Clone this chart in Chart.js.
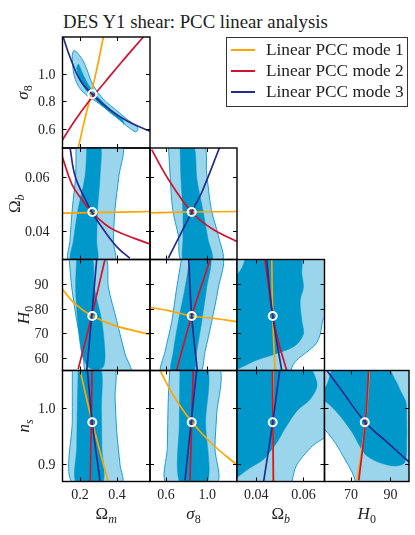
<!DOCTYPE html>
<html>
<head>
<meta charset="utf-8">
<title>DES Y1 shear: PCC linear analysis</title>
<script src="https://cdn.jsdelivr.net/npm/chart.js@4.4.1/dist/chart.umd.min.js"></script>
<style>
  html, body { margin: 0; padding: 0; background: #fff; }
  #page { position: relative; width: 415px; height: 535px; overflow: hidden;
          font-family: "Liberation Serif", "DejaVu Serif", serif; color: #222; }
  #page canvas { position: absolute; left: 0; top: 0; }
  #title { position: absolute; left: 63px; top: 12.6px; font-size: 18.8px; line-height: 18.8px; white-space: nowrap; }
  #legend { position: absolute; left: 226px; top: 37px; width: 180px; height: 68px;
            border: 1.3px solid #333; background: #fff; }
  .sw { position: absolute; left: 231px; width: 24px; height: 2px; }
  .tx { position: absolute; left: 266px; font-size: 17.3px; line-height: 17px; white-space: nowrap; }
</style>
</head>
<body>
<div id="page">
  <div id="title">DES Y1 shear: PCC linear analysis</div>
  <div id="legend"></div>
</div>
<script>
// fiducial point: Ωm, σ8, Ωb, H0, ns
const fid = [0.266, 0.85, 0.047, 77.0, 0.975];

// axis limits
const omLim = [0.105, 0.578];
const s8LimX = [0.445, 1.29];
const obLimX = [0.0319, 0.0689];
const h0LimX = [56.6, 99.4];
const s8LimY = [0.459, 1.267];
const obLimY = [0.0295, 0.0706];
const h0LimY = [54.93, 99.87];
const nsLimY = [0.868, 1.0687];

// ticks
const omTicks = [0.2, 0.4];
const s8TicksX = [0.6, 1.0];
const s8TicksY = [0.6, 0.8, 1.0];
const obTicks = [0.04, 0.06];
const h0TicksX = [70, 90];
const h0TicksY = [60, 70, 80, 90];
const nsTicks = [0.9, 1.0];

const legendLabels = ['Linear PCC mode 1', 'Linear PCC mode 2', 'Linear PCC mode 3'];

// contours (68% dark, 95% light) and PCC mode lines, per panel
const omS8Light = [[0.166,1.168],[0.180,1.160],[0.214,1.099],[0.238,1.027],[0.262,0.94],[0.294,0.867],[0.336,0.801],[0.394,0.736],[0.452,0.670],[0.510,0.612],[0.510,0.583],[0.497,0.577],[0.450,0.622],[0.376,0.707],[0.306,0.780],[0.240,0.838],[0.196,0.898],[0.170,0.976],[0.160,1.063],[0.158,1.143],[0.166,1.168]];
const omS8Dark = [[0.181,1.041],[0.200,0.954],[0.232,0.881],[0.286,0.809],[0.351,0.729],[0.427,0.649],[0.437,0.630],[0.427,0.670],[0.351,0.758],[0.286,0.845],[0.243,0.925],[0.210,1.012],[0.191,1.070],[0.181,1.041]];
const omS8Mode1 = [[0.190,0.459],[0.224,0.66],[0.259,0.85],[0.293,1.05],[0.326,1.267]];
const omS8Mode2 = [[0.104,0.516],[0.173,0.661],[0.245,0.794],[0.335,0.94],[0.425,1.085],[0.542,1.267]];
const omS8Mode3 = [[0.109,1.265],[0.145,1.123],[0.200,0.954],[0.266,0.85],[0.362,0.736],[0.452,0.658],[0.560,0.590],[0.578,0.583]];

const omObLight = [[0.178,0.072],[0.176,0.0603],[0.158,0.0482],[0.145,0.0361],[0.140,0.029],[0.385,0.029],[0.380,0.0361],[0.389,0.0482],[0.410,0.0603],[0.425,0.072],[0.178,0.072]];
const omObDark = [[0.237,0.072],[0.227,0.0603],[0.190,0.0482],[0.163,0.0361],[0.151,0.029],[0.290,0.029],[0.290,0.0361],[0.295,0.0482],[0.308,0.0603],[0.308,0.072],[0.237,0.072]];
const omObMode1 = [[0.10,0.0466],[0.266,0.0468],[0.58,0.0472]];
const omObMode2 = [[0.104,0.0674],[0.156,0.0572],[0.21,0.0515],[0.263,0.0470],[0.335,0.0425],[0.389,0.0402],[0.497,0.0372],[0.578,0.0352]];
const omObMode3 = [[0.146,0.0706],[0.173,0.0603],[0.227,0.0518],[0.263,0.0470],[0.335,0.0397],[0.407,0.0336],[0.469,0.0300]];

const s8ObLight = [[0.623,0.072],[0.639,0.0614],[0.665,0.048],[0.720,0.0383],[0.757,0.029],[1.145,0.029],[1.108,0.0383],[1.04,0.048],[0.995,0.0614],[0.962,0.072],[0.623,0.072]];
const s8ObDark = [[0.736,0.072],[0.746,0.059],[0.765,0.047],[0.765,0.0371],[0.775,0.029],[1.046,0.029],[1.008,0.0371],[0.962,0.047],[0.901,0.059],[0.865,0.072],[0.736,0.072]];
const s8ObMode1 = [[0.44,0.0467],[0.85,0.0470],[1.29,0.0472]];
const s8ObMode2 = [[0.461,0.0700],[0.623,0.0591],[0.85,0.0470],[1.044,0.0409],[1.29,0.0361]];
const s8ObMode3 = [[0.623,0.0300],[0.85,0.0470],[0.947,0.0542],[1.125,0.0712]];

const omH0Light = [[0.140,101],[0.155,88.6],[0.182,75.1],[0.217,61.6],[0.238,54],[0.473,54],[0.443,61.6],[0.398,75.1],[0.353,88.6],[0.333,101],[0.140,101]];
const omH0Dark = [[0.182,101],[0.176,88.6],[0.187,75.1],[0.209,61.6],[0.244,56.3],[0.286,55.2],[0.325,56.3],[0.335,61.6],[0.317,75.1],[0.277,88.6],[0.263,101],[0.182,101]];
const omH0Mode1 = [[0.104,87.9],[0.173,81.9],[0.263,77.1],[0.389,73.1],[0.578,69.5]];
const omH0Mode2 = [[0.190,55.5],[0.263,77],[0.335,100.1]];
const omH0Mode3 = [[0.236,54.9],[0.263,77],[0.290,100.1]];

const s8H0Light = [[0.755,101],[0.704,88.3],[0.656,74.7],[0.591,62.5],[0.555,54],[0.925,54],[0.979,62.5],[1.044,74.7],[1.108,88.3],[1.145,101],[0.755,101]];
const s8H0Dark = [[0.835,101],[0.785,88.3],[0.720,74.7],[0.671,62.5],[0.654,54],[0.862,54],[0.898,62.5],[0.947,74.7],[0.995,88.3],[1.03,101],[0.835,101]];
const s8H0Mode1 = [[0.445,80.5],[0.656,78.9],[0.85,77.0],[1.066,76.0],[1.29,74.7]];
const s8H0Mode2 = [[0.704,55.1],[0.85,77.0],[1.030,99.9]];
const s8H0Mode3 = [[0.821,99.9],[0.85,77.0],[0.904,55.1]];

const obH0Light = [[0.031,101],[0.070,101],[0.070,76.6],[0.0684,76.0],[0.0672,70.0],[0.0655,66.0],[0.0628,63.5],[0.0595,61.0],[0.0565,58.5],[0.0550,56.0],[0.0545,54],[0.031,54],[0.031,101]];
const obH0Dark = [[0.031,93.5],[0.0322,94.0],[0.0340,96.5],[0.0353,99.9],[0.0356,101],[0.0586,101],[0.0593,94.0],[0.0600,88.6],[0.0586,83.2],[0.0593,75.1],[0.0600,69.7],[0.0565,65.0],[0.0480,61.6],[0.0395,58.9],[0.0339,56.3],[0.031,55.3],[0.031,93.5]];
const obH0Mode1 = [[0.0466,100.1],[0.0470,77],[0.0480,55]];
const obH0Mode2 = [[0.0437,100.1],[0.0453,88.5],[0.0470,77],[0.0494,66.6],[0.0529,55]];
const obH0Mode3 = [[0.0444,100.1],[0.0470,77],[0.0508,55]];

const omNsLight = [[0.158,1.075],[0.158,0.979],[0.158,0.865],[0.425,0.865],[0.416,0.898],[0.398,0.959],[0.389,1.019],[0.380,1.075],[0.158,1.075]];
const omNsDark = [[0.190,1.075],[0.185,1.0],[0.182,0.93],[0.180,0.865],[0.320,0.865],[0.318,0.93],[0.315,1.0],[0.308,1.075],[0.190,1.075]];
const omNsMode1 = [[0.200,1.069],[0.266,0.975],[0.355,0.864]];
const omNsMode2 = [[0.265,1.07],[0.255,0.866]];
const omNsMode3 = [[0.239,1.07],[0.266,0.975],[0.309,0.866]];

const s8NsLight = [[0.639,1.075],[0.623,1.019],[0.613,0.928],[0.606,0.865],[1.094,0.865],[1.076,0.928],[1.092,0.988],[1.110,1.075],[0.639,1.075]];
const s8NsDark = [[0.736,1.075],[0.730,0.975],[0.736,0.865],[1.0,0.865],[0.985,0.975],[1.0,1.075],[0.736,1.075]];
const s8NsMode1 = [[0.542,1.069],[0.671,1.024],[0.85,0.976],[1.060,0.934],[1.29,0.898]];
const s8NsMode2 = [[0.865,1.069],[0.833,0.870]];
const s8NsMode3 = [[0.898,1.069],[0.785,0.870]];

const obNsLight = [[0.031,1.075],[0.070,1.075],[0.070,0.947],[0.0686,0.946],[0.0640,0.933],[0.0597,0.913],[0.0568,0.895],[0.0553,0.871],[0.0550,0.86],[0.031,0.86],[0.031,1.075]];
const obNsDark = [[0.031,1.075],[0.062,1.075],[0.0655,1.05],[0.0655,1.036],[0.0625,1.015],[0.0575,0.997],[0.0525,0.966],[0.049,0.940],[0.0455,0.920],[0.0428,0.907],[0.0372,0.892],[0.0327,0.878],[0.031,0.874],[0.031,1.075]];
const obNsMode1 = [[0.0472,1.07],[0.0471,0.866]];
const obNsMode2 = [[0.0469,1.07],[0.0473,0.866]];
const obNsMode3 = [[0.0500,1.07],[0.047,0.975],[0.0431,0.866]];

const h0NsLight = [[55,1.075],[100,1.075],[100,0.86],[72.5,0.86],[72.0,0.871],[70.4,0.886],[67.1,0.907],[62.2,0.937],[56.5,0.963],[55,0.966],[55,1.075]];
const h0NsDark = [[60.3,1.075],[88.0,1.075],[92.1,1.054],[95.4,1.030],[97.8,1.012],[98.2,0.979],[98.2,0.943],[97.3,0.903],[92.3,0.896],[83.9,0.903],[77.5,0.916],[74.1,0.934],[70.6,0.957],[64.2,0.988],[57.8,1.011],[55,1.016],[55,1.03],[57.7,1.042],[60.1,1.069],[60.3,1.075]];
const h0NsMode1 = [[73.2,0.870],[77.3,0.975],[79.3,1.069]];
const h0NsMode2 = [[74.0,0.870],[77.3,0.975],[79.0,1.069]];
const h0NsMode3 = [[57.5,1.07],[64.2,1.038],[77.3,0.975],[88,0.94],[99.5,0.903]];

// ---- layout & style ----
const W = 415, H = 535;
const colX = [62.5, 150, 237, 324.5, 411.5];
const rowY = [37, 148, 259.5, 370.5, 481.5];
const LIGHT = 'rgb(155,213,236)';
const DARK = 'rgb(0,152,202)';
const EDGE = 'rgb(25,158,214)';
const MODE_COLORS = ['#ffa500', '#d3122f', '#272c8c'];
const TICK_FONT = '14px "Liberation Serif", serif';
const yLabelRight = [55.5, 49.5, 48.5, 55.5];
const yTitleBase = [28, 20, 28.5, 28.5];

const names = {
  om: [['\u03A9', false, false], ['m', true, true]],
  s8: [['\u03C3', true, false], ['8', false, true]],
  ob: [['\u03A9', false, false], ['b', true, true]],
  h0: [['H', true, false], ['0', false, true]],
  ns: [['n', true, false], ['s', true, true]]
};
const fmt = v => (Math.abs(v) >= 10 ? String(v) : (v < 0.1 ? v.toFixed(2) : v.toFixed(1)));

const panels = [
  {c:0, r:0, xn:'om', yn:'s8', xl:omLim,  yl:s8LimY, xt:omTicks,  yt:s8TicksY, fx:fid[0], fy:fid[1], light:omS8Light, dark:omS8Dark, modes:[omS8Mode1, omS8Mode2, omS8Mode3]},
  {c:0, r:1, xn:'om', yn:'ob', xl:omLim,  yl:obLimY, xt:omTicks,  yt:obTicks,  fx:fid[0], fy:fid[2], light:omObLight, dark:omObDark, modes:[omObMode1, omObMode2, omObMode3]},
  {c:1, r:1, xn:'s8', yn:'ob', xl:s8LimX, yl:obLimY, xt:s8TicksX, yt:obTicks,  fx:fid[1], fy:fid[2], light:s8ObLight, dark:s8ObDark, modes:[s8ObMode1, s8ObMode2, s8ObMode3]},
  {c:0, r:2, xn:'om', yn:'h0', xl:omLim,  yl:h0LimY, xt:omTicks,  yt:h0TicksY, fx:fid[0], fy:fid[3], light:omH0Light, dark:omH0Dark, modes:[omH0Mode1, omH0Mode2, omH0Mode3]},
  {c:1, r:2, xn:'s8', yn:'h0', xl:s8LimX, yl:h0LimY, xt:s8TicksX, yt:h0TicksY, fx:fid[1], fy:fid[3], light:s8H0Light, dark:s8H0Dark, modes:[s8H0Mode1, s8H0Mode2, s8H0Mode3]},
  {c:2, r:2, xn:'ob', yn:'h0', xl:obLimX, yl:h0LimY, xt:obTicks,  yt:h0TicksY, fx:fid[2], fy:fid[3], light:obH0Light, dark:obH0Dark, modes:[obH0Mode1, obH0Mode2, obH0Mode3]},
  {c:0, r:3, xn:'om', yn:'ns', xl:omLim,  yl:nsLimY, xt:omTicks,  yt:nsTicks,  fx:fid[0], fy:fid[4], light:omNsLight, dark:omNsDark, modes:[omNsMode1, omNsMode2, omNsMode3]},
  {c:1, r:3, xn:'s8', yn:'ns', xl:s8LimX, yl:nsLimY, xt:s8TicksX, yt:nsTicks,  fx:fid[1], fy:fid[4], light:s8NsLight, dark:s8NsDark, modes:[s8NsMode1, s8NsMode2, s8NsMode3]},
  {c:2, r:3, xn:'ob', yn:'ns', xl:obLimX, yl:nsLimY, xt:obTicks,  yt:nsTicks,  fx:fid[2], fy:fid[4], light:obNsLight, dark:obNsDark, modes:[obNsMode1, obNsMode2, obNsMode3]},
  {c:3, r:3, xn:'h0', yn:'ns', xl:h0LimX, yl:nsLimY, xt:h0TicksX, yt:nsTicks,  fx:fid[3], fy:fid[4], light:h0NsLight, dark:h0NsDark, modes:[h0NsMode1, h0NsMode2, h0NsMode3]}
];

function pts(a) { return a.map(p => ({x: p[0], y: p[1]})); }

function drawName(ctx, parts, x, y, rotated) {
  ctx.save();
  ctx.translate(x, y);
  if (rotated) ctx.rotate(-Math.PI / 2);
  const font = p => (p[1] ? 'italic ' : '') + (p[2] ? '12px' : '17px') + ' "Liberation Serif", serif';
  let w = 0;
  parts.forEach(p => { ctx.font = font(p); w += ctx.measureText(p[0]).width; });
  let cx = -w / 2;
  ctx.textAlign = 'left';
  ctx.textBaseline = 'alphabetic';
  parts.forEach(p => {
    ctx.font = font(p);
    ctx.fillText(p[0], cx, p[2] ? 4 : 0);
    cx += ctx.measureText(p[0]).width;
  });
  ctx.restore();
}

function framePlugin(p) {
  return {
    id: 'frame',
    afterDraw(chart) {
      const {ctx, chartArea: a, scales} = chart;
      const sx = scales.x, sy = scales.y;
      ctx.save();
      ctx.strokeStyle = '#000';
      ctx.lineWidth = 1;
      ctx.beginPath();
      p.xt.forEach(v => {
        const px = Math.round(sx.getPixelForValue(v)) + 0.5;
        ctx.moveTo(px, a.top); ctx.lineTo(px, a.top + 4);
        ctx.moveTo(px, a.bottom); ctx.lineTo(px, a.bottom - 4);
      });
      p.yt.forEach(v => {
        const py = Math.round(sy.getPixelForValue(v)) + 0.5;
        ctx.moveTo(a.left, py); ctx.lineTo(a.left + 4, py);
        ctx.moveTo(a.right, py); ctx.lineTo(a.right - 4, py);
      });
      ctx.stroke();
      ctx.lineWidth = 1.4;
      ctx.strokeRect(a.left, a.top, a.right - a.left, a.bottom - a.top);
      ctx.fillStyle = '#222';
      ctx.font = TICK_FONT;
      if (p.c === 0) {
        ctx.textAlign = 'right';
        ctx.textBaseline = 'alphabetic';
        p.yt.forEach(v => ctx.fillText(fmt(v), yLabelRight[p.r], sy.getPixelForValue(v) + 5));
        drawName(ctx, names[p.yn], yTitleBase[p.r], (a.top + a.bottom) / 2, true);
      }
      if (p.r === 3) {
        ctx.font = TICK_FONT;
        ctx.textAlign = 'center';
        ctx.textBaseline = 'alphabetic';
        p.xt.forEach(v => ctx.fillText(fmt(v), sx.getPixelForValue(v), 498.5));
        drawName(ctx, names[p.xn], (a.left + a.right) / 2, 519, false);
      }
      ctx.restore();
    }
  };
}

const page = document.getElementById('page');

panels.forEach(p => {
  const cv = document.createElement('canvas');
  cv.width = W; cv.height = H;
  page.appendChild(cv);
  const datasets = [
    {data: pts(p.light), showLine: true, fill: 'shape', backgroundColor: LIGHT, borderColor: EDGE,
     borderWidth: 1, pointRadius: 0, tension: 0.3, order: 10},
    {data: pts(p.dark), showLine: true, fill: 'shape', backgroundColor: DARK, borderColor: DARK,
     borderWidth: 0.5, pointRadius: 0, tension: 0.3, order: 9}
  ];
  p.modes.forEach((m, i) => datasets.push({
    data: pts(m), showLine: true, fill: false, borderColor: MODE_COLORS[i], borderWidth: 1.7,
    pointRadius: 0, tension: 0.4, order: 5 - i
  }));
  datasets.push({
    data: [{x: p.fx, y: p.fy}], showLine: false, pointRadius: 4, pointBorderWidth: 2,
    pointBorderColor: '#fff', pointBackgroundColor: 'rgba(0,0,0,0)', order: 0
  });
  new Chart(cv, {
    type: 'scatter',
    data: {datasets},
    options: {
      responsive: false, animation: false, devicePixelRatio: 1, events: [],
      layout: {padding: {left: colX[p.c], right: W - colX[p.c + 1], top: rowY[p.r], bottom: H - rowY[p.r + 1]}},
      plugins: {legend: {display: false}, tooltip: {enabled: false}, title: {display: false}},
      scales: {
        x: {type: 'linear', display: false, min: p.xl[0], max: p.xl[1]},
        y: {type: 'linear', display: false, min: p.yl[0], max: p.yl[1]}
      }
    },
    plugins: [framePlugin(p)]
  });
});

// legend
const rowsCy = [49.5, 70.7, 91.7];
const rowsBase = [55, 76.5, 97.5];
legendLabels.forEach((txt, i) => {
  const sw = document.createElement('div');
  sw.className = 'sw';
  sw.style.top = (rowsCy[i] - 1) + 'px';
  sw.style.background = MODE_COLORS[i];
  page.appendChild(sw);
  const t = document.createElement('div');
  t.className = 'tx';
  t.style.top = (rowsBase[i] - 14.5) + 'px';
  t.textContent = txt;
  page.appendChild(t);
});
</script>
</body>
</html>
